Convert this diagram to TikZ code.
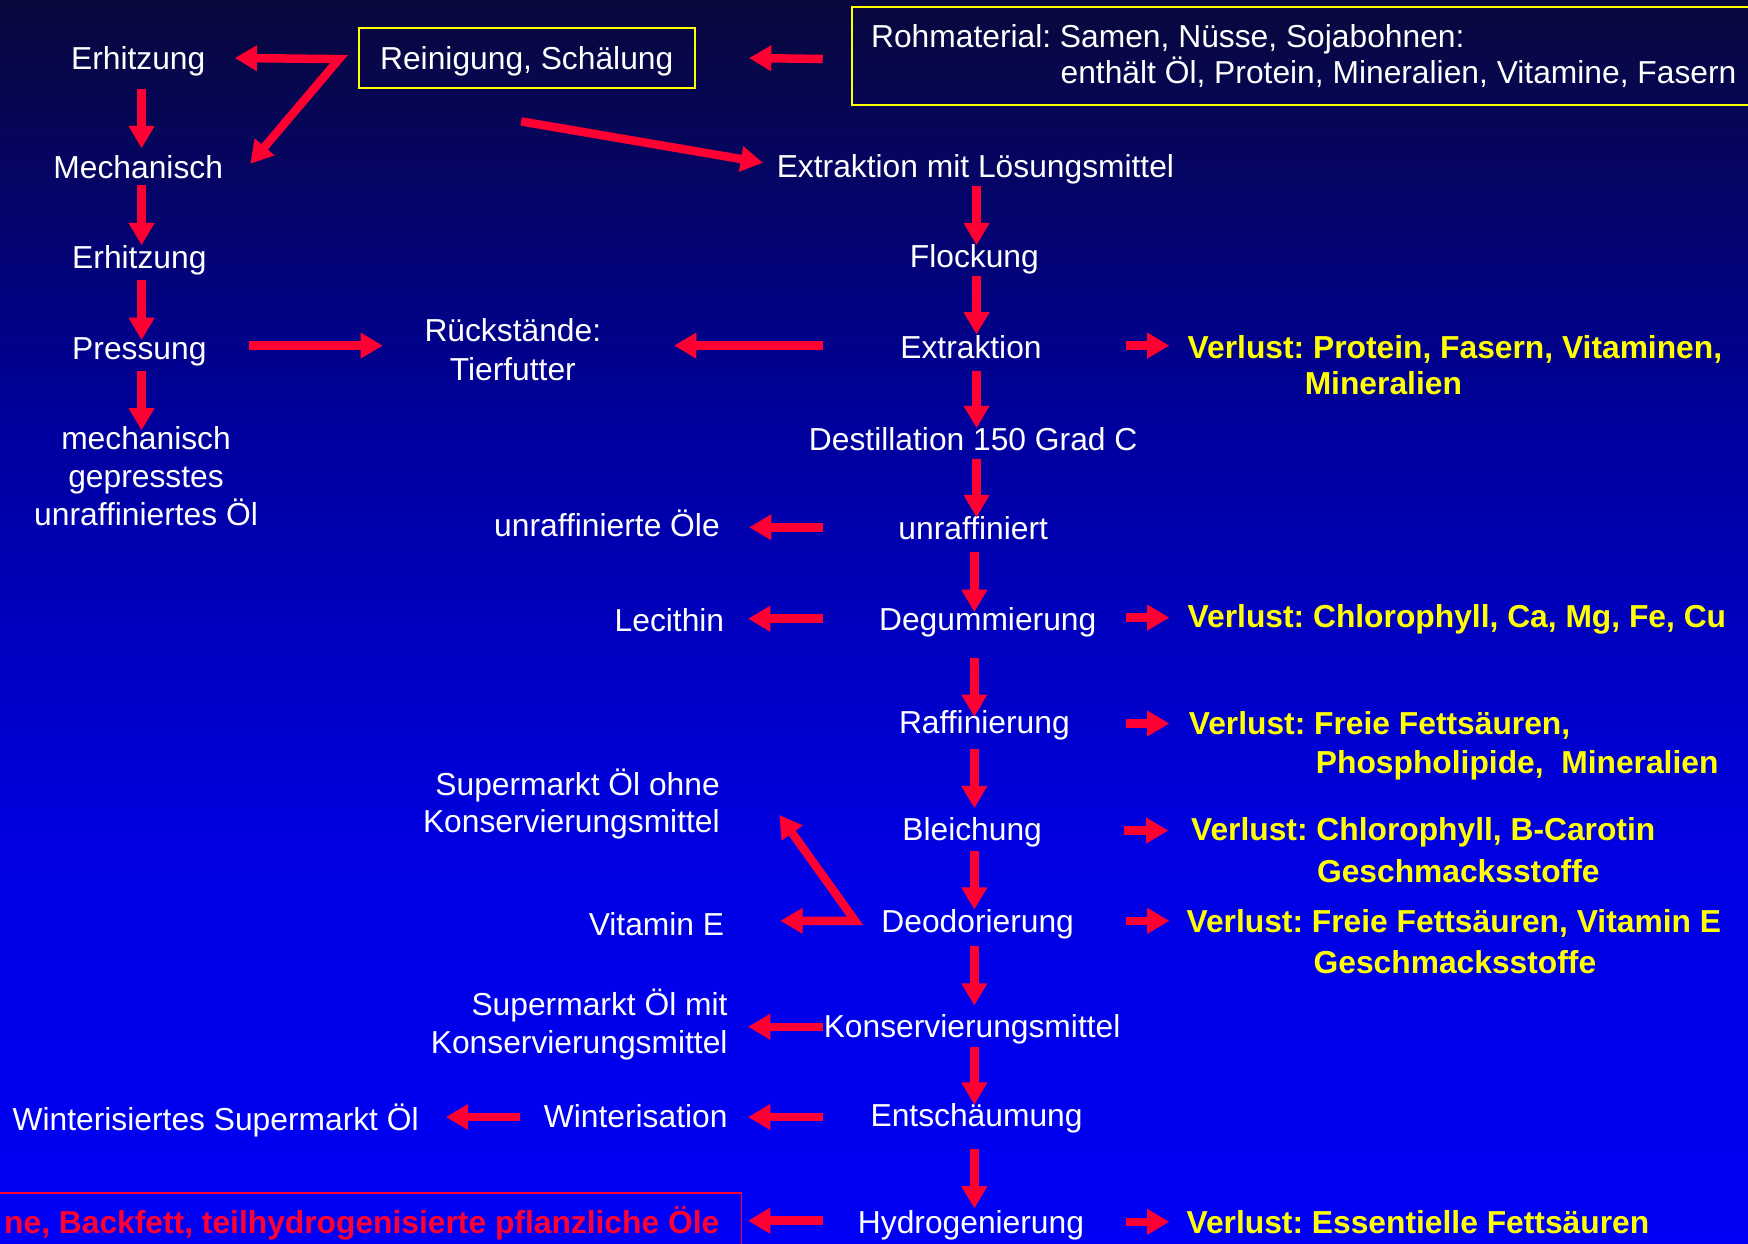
\documentclass[tikz,border=0pt]{standalone}
\usepackage{fontspec}
\setmainfont{Liberation Sans}
\frenchspacing
\usetikzlibrary{arrows.meta,calc}
\definecolor{ared}{HTML}{FF0033}
\definecolor{yel}{HTML}{FFFF00}
\definecolor{bgA}{HTML}{08083C}
\definecolor{bgB}{HTML}{00009C}
\definecolor{bgC}{HTML}{0000E2}
\definecolor{bgD}{HTML}{0000F6}
\begin{document}
\frenchspacing
\begin{tikzpicture}[x=0.5pt,y=-0.5pt,
  txt/.style={inner sep=0pt, text height=10.2pt, text depth=0pt, text=white,
    font=\fontsize{14.25}{17}\selectfont\frenchspacing},
  loss/.style={txt, text=yel, font=\fontsize{14.25}{17}\selectfont\bfseries\frenchspacing, anchor=west},
  flow/.style={draw=ared, line width=3.8pt, -{Triangle[length=10pt,width=11pt]}},
  flow2/.style={draw=ared, line width=3.8pt, line join=miter,
    {Triangle[length=10pt,width=11pt]}-{Triangle[length=10pt,width=11pt]}},
  ybox/.style={draw=yel, line width=0.9pt}]
\useasboundingbox (0,0) rectangle (1568,1115);
\clip (0,0) rectangle (1568,1115);
% background
\shade[top color=bgA, bottom color=bgB] (0,0) rectangle (1568,378);
\shade[top color=bgB, bottom color=bgC] (0,377) rectangle (1568,763);
\shade[top color=bgC, bottom color=bgD] (0,762) rectangle (1568,1115);

% left column
\node[txt] (e1) at (124,52) {Erhitzung};
\node[txt] (mech) at (124,150) {Mechanisch};
\node[txt] (e2) at (125,231) {Erhitzung};
\node[txt] (press) at (125,312) {Pressung};
\node[txt] (mg1) at (131,393) {mechanisch};
\node[txt] (mg2) at (131,427) {gepresstes};
\node[txt] (mg3) at (131,461) {unraffiniertes Öl};

% top boxes
\node[txt, ybox, minimum width=150.5pt, minimum height=27pt] (rein) at (472.5,52) {Reinigung, Schälung};
\node[ybox, inner sep=0pt, minimum width=415pt, minimum height=44pt, anchor=north west] (roh) at (763,5) {};
\node[txt, anchor=west] (roh1) at (781,32) {Rohmaterial: Samen, Nüsse, Sojabohnen:};
\node[txt, anchor=west] (roh2) at (951,65) {enthält Öl, Protein, Mineralien, Vitamine, Fasern};

\node[txt] (ruck1) at (460,296) {Rückstände:};
\node[txt] (ruck2) at (460,331) {Tierfutter};

% centre column
\node[txt] (extlm) at (875,149) {Extraktion mit Lösungsmittel};
\node[txt] (floc) at (874,230) {Flockung};
\node[txt] (extr) at (871,311) {Extraktion};
\node[txt] (dest) at (873,394) {Destillation 150 Grad C};
\node[txt] (unr) at (873,474) {unraffiniert};
\node[txt] (degum) at (886,555) {Degummierung};
\node[txt] (raff) at (883,648) {Raffinierung};
\node[txt] (bleich) at (872,744) {Bleichung};
\node[txt] (deod) at (877,826) {Deodorierung};
\node[txt] (kons) at (872,920) {Konservierungsmittel};
\node[txt] (ents) at (876,1000) {Entschäumung};
\node[txt] (hydro) at (871,1096) {Hydrogenierung};

% products on the left
\node[txt, anchor=east] (uoele) at (646,471) {unraffinierte Öle};
\node[txt, anchor=east] (lec) at (650,556) {Lecithin};
\node[txt, anchor=east] (sohne1) at (646,703) {Supermarkt Öl ohne};
\node[txt, anchor=east] (sohne2) at (646,737) {Konservierungsmittel};
\node[txt, anchor=east] (vite) at (650,829) {Vitamin E};
\node[txt, anchor=east] (smit1) at (653,901) {Supermarkt Öl mit};
\node[txt, anchor=east] (smit2) at (653,935) {Konservierungsmittel};
\node[txt, anchor=east] (wint) at (653,1001) {Winterisation};
\node[txt, anchor=east] (winter) at (376,1004) {Winterisiertes Supermarkt Öl};
\node[txt, inner xsep=10pt, minimum height=26pt, draw=ared, line width=0.8pt, text=ared,
  font=\fontsize{14.25}{17}\selectfont\bfseries\frenchspacing, anchor=east] (marg) at (666,1096)
  {ne, Backfett, teilhydrogenisierte pflanzliche Öle};

% losses on the right
\node[loss] (v1a) at (1065,311) {Verlust: Protein, Fasern, Vitaminen,};
\node[loss] (v1b) at (1170,344) {Mineralien};
\node[loss] (v2) at (1065,553) {Verlust: Chlorophyll, Ca, Mg, Fe, Cu};
\node[loss] (v3a) at (1066,649) {Verlust: Freie Fettsäuren,};
\node[loss] (v3b) at (1180,684) {Phospholipide,~ Mineralien};
\node[loss] (v4a) at (1068,744) {Verlust: Chlorophyll, B-Carotin};
\node[loss] (v4b) at (1181,781) {Geschmacksstoffe};
\node[loss] (v5a) at (1064,826) {Verlust: Freie Fettsäuren, Vitamin E};
\node[loss] (v5b) at (1178,863) {Geschmacksstoffe};
\node[loss] (v6) at (1064,1096) {Verlust: Essentielle Fettsäuren};

% top connectors
\draw[flow] ($(roh.west)+(-25,3)$) -- ($(rein.east)+(48,0)$);
\coordinate (split) at ($(rein.west)+(-17,1)$);
\draw[flow2] ($(e1.east)+(26,0)$) -- (split) -- ($(mech.east)+(24,-3)$);
\draw[flow] ($(rein.south)+(-5,29)$) -- ($(extlm.west)+(-12,-3)$);

% left column connectors
\draw[flow] ($(e1.center)+(3,28)$) -- ($(mech.center)+(3,-17)$);
\draw[flow] ($(mech.center)+(3,16)$) -- ($(e2.center)+(2,-11)$);
\draw[flow] ($(e2.center)+(2,20)$) -- ($(press.center)+(2,-7)$);
\draw[flow] ($(press.center)+(2,21)$) -- ($(mg1.center)+(-4,-7)$);
\draw[flow] ($(press.east)+(38,-2)$) -- ($(ruck1.west)+(-37,14)$);
\draw[flow] ($(extr.center)+(-133,-1)$) -- ($(ruck1.east)+(65,14)$);

% centre column connectors
\draw[flow] ($(extlm.center)+(1,18)$) -- ($(floc.center)+(2,-10)$);
\draw[flow] ($(floc.center)+(2,18)$) -- ($(extr.center)+(5,-11)$);
\draw[flow] ($(extr.center)+(5,22)$) -- ($(dest.center)+(3,-10)$);
\draw[flow] ($(dest.center)+(3,18)$) -- ($(unr.center)+(3,-10)$);
\draw[flow] ($(unr.center)+(1,21)$) -- ($(degum.center)+(-12,-6)$);
\draw[flow] ($(degum.center)+(-12,35)$) -- ($(raff.center)+(-9,-5)$);
\draw[flow] ($(raff.center)+(-9,24)$) -- ($(bleich.center)+(2,-19)$);
\draw[flow] ($(bleich.center)+(2,19)$) -- ($(deod.center)+(-3,-10)$);
\draw[flow] ($(deod.center)+(-3,23)$) -- ($(kons.center)+(2,-18)$);
\draw[flow] ($(kons.center)+(2,19)$) -- ($(ents.center)+(-2,-9)$);
\draw[flow] ($(ents.center)+(-2,31)$) -- ($(hydro.center)+(3,-12)$);

% connectors to the left
\draw[flow] ($(unr.center)+(-135,-1)$) -- ($(uoele.east)+(26,2)$);
\draw[flow] ($(degum.center)+(-148,0)$) -- ($(lec.east)+(21,-1)$);
\coordinate (vsplit) at ($(deod.center)+(-110,0)$);
\draw[flow2] ($(vite.east)+(50,-3)$) -- (vsplit) -- ($(sohne2.east)+(53,-6)$);
\draw[flow] ($(kons.center)+(-134,1)$) -- ($(smit1.east)+(18,20)$);
\draw[flow] ($(ents.center)+(-138,2)$) -- ($(wint.east)+(18,1)$);
\draw[flow] ($(wint.center)+(-104,1)$) -- ($(winter.east)+(24,-2)$);
\draw[flow] ($(hydro.center)+(-133,-1)$) -- ($(marg.east)+(5,-1)$);

% connectors to the right
\draw[flow] ($(extr.center)+(139,-1)$) -- ($(v1a.west)+(-16,-1)$);
\draw[flow] ($(degum.center)+(124,-1)$) -- ($(v2.west)+(-16,1)$);
\draw[flow] ($(raff.center)+(127,1)$) -- ($(v3a.west)+(-17,0)$);
\draw[flow] ($(bleich.center)+(136,1)$) -- ($(v4a.west)+(-20,1)$);
\draw[flow] ($(deod.center)+(133,0)$) -- ($(v5a.west)+(-15,0)$);
\draw[flow] ($(hydro.center)+(139,0)$) -- ($(v6.west)+(-15,0)$);
\end{tikzpicture}
\end{document}
